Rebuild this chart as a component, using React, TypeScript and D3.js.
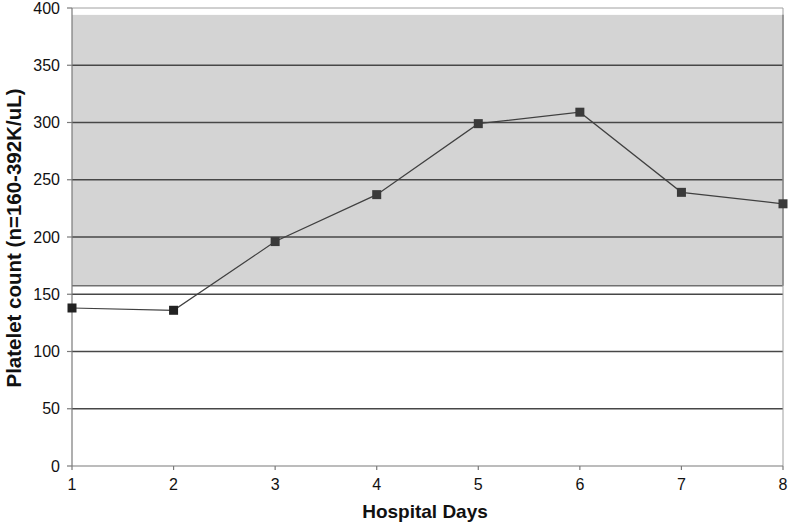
import React from "react";
import * as d3 from "d3";

const days = [1, 2, 3, 4, 5, 6, 7, 8];
const platelets = [138, 136, 196, 237, 299, 309, 239, 229];
const yTicks = [0, 50, 100, 150, 200, 250, 300, 350, 400];
const normalRange = [157.5, 394];

const W = 788;
const H = 525;
const left = 72;
const right = 783;
const top = 8;
const bottom = 466;

export default function App() {
  const x = d3.scaleLinear().domain([1, 8]).range([left, right]);
  const y = d3.scaleLinear().domain([0, 400]).range([bottom, top]);
  const line = d3
    .line<number>()
    .x((_, i) => x(days[i]))
    .y((d) => y(d));
  const font = "'Liberation Sans', Arial, sans-serif";
  return (
    <div style={{ position: "absolute", left: 0, top: 0 }}>
      <svg width={W} height={H} style={{ display: "block", background: "#fff" }}>
        {/* normal range band */}
        <rect
          x={left}
          y={y(normalRange[1])}
          width={right - left}
          height={y(normalRange[0]) - y(normalRange[1])}
          fill="#d4d4d4"
        />
        <line x1={right} x2={right} y1={y(normalRange[1])} y2={y(normalRange[0])} stroke="#707070" strokeWidth={1.5} />
        <line x1={left} x2={right} y1={y(normalRange[0])} y2={y(normalRange[0])} stroke="#707070" strokeWidth={1.5} />
        {/* gridlines */}
        {yTicks
          .filter((t) => t > 0 && t < 400)
          .map((t) => (
            <line key={t} x1={left} x2={right} y1={y(t)} y2={y(t)} stroke="#474747" strokeWidth={1.5} />
          ))}
        {/* plot border */}
        <line x1={left} x2={right} y1={y(400)} y2={y(400)} stroke="#a0a0a0" strokeWidth={1} />
        <line x1={right} x2={right} y1={y(400)} y2={y(0)} stroke="#a0a0a0" strokeWidth={1} />
        {/* axes */}
        <line x1={left} x2={left} y1={y(400)} y2={y(0)} stroke="#7a7a7a" strokeWidth={1.2} />
        <line x1={left} x2={right} y1={y(0)} y2={y(0)} stroke="#7a7a7a" strokeWidth={1.2} />
        {yTicks.map((t) => (
          <g key={t}>
            <line x1={left - 5} x2={left} y1={y(t)} y2={y(t)} stroke="#7a7a7a" strokeWidth={1.2} />
            <text
              x={left - 12}
              y={y(t)}
              dy="0.35em"
              textAnchor="end"
              fontFamily={font}
              fontSize={16}
              fill="#111"
            >
              {t}
            </text>
          </g>
        ))}
        {days.map((d) => (
          <g key={d}>
            <line x1={x(d)} x2={x(d)} y1={y(0)} y2={y(0) + 4} stroke="#7a7a7a" strokeWidth={1.2} />
            <text x={x(d)} y={y(0) + 24} textAnchor="middle" fontFamily={font} fontSize={16} fill="#111">
              {d}
            </text>
          </g>
        ))}
        {/* series */}
        <path d={line(platelets) || ""} fill="none" stroke="#404040" strokeWidth={1.2} />
        {platelets.map((v, i) => (
          <rect
            key={i}
            x={x(days[i]) - 4.5}
            y={y(v) - 4.5}
            width={9}
            height={9}
            fill={i < 2 ? "#222" : "#3a3a3a"}
          />
        ))}
        {/* titles */}
        <text
          x={425}
          y={518}
          textAnchor="middle"
          fontFamily={font}
          fontSize={19}
          fontWeight="bold"
          fill="#111"
        >
          Hospital Days
        </text>
        <text
          transform={`translate(14, 238) rotate(-90)`}
          textAnchor="middle"
          dy="0.35em"
          fontFamily={font}
          fontSize={20.5}
          fontWeight="bold"
          fill="#111"
        >
          Platelet count (n=160-392K/uL)
        </text>
      </svg>
    </div>
  );
}
